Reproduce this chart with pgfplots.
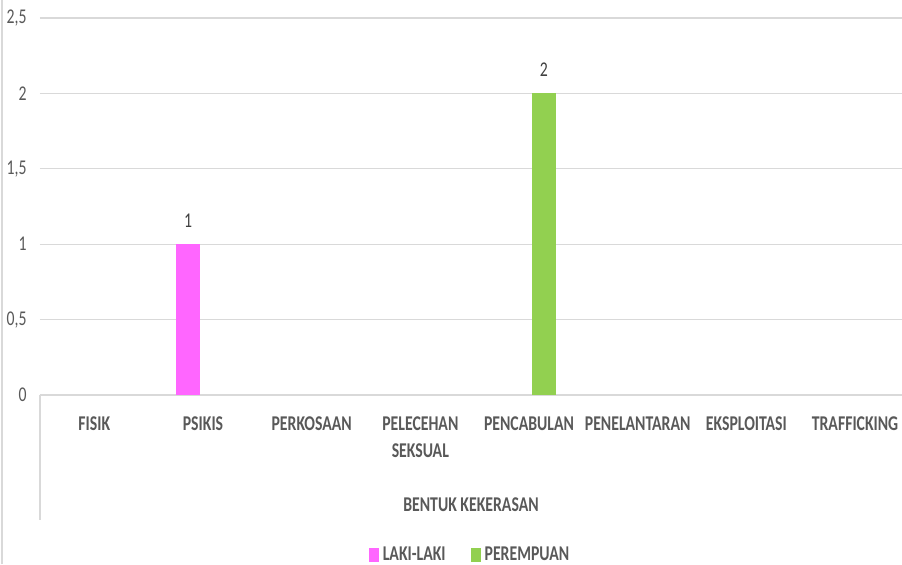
\documentclass[border=0pt]{standalone}
\usepackage{fontspec}
\setmainfont{Carlito}[FakeStretch=0.75]
\usepackage{pgfplots}
\pgfplotsset{compat=1.18}
\definecolor{gridgray}{HTML}{D9D9D9}
\definecolor{tickgray}{HTML}{595959}
\definecolor{labgray}{HTML}{404040}
\definecolor{mag}{HTML}{FF66FF}
\definecolor{grn}{HTML}{92D050}
\newcommand\cfont{\fontsize{10.5}{13.5}\selectfont}
\begin{document}
\begin{tikzpicture}
\path[use as bounding box,fill=white] (-20pt,-84.5pt) rectangle (431pt,197.5pt);
\draw[gridgray,line width=0.6pt] (-19pt,-84.5pt) -- (-19pt,197.5pt);
\begin{axis}[
  at={(0,0)},anchor=south west,
  scale only axis,width=431pt,height=188.5pt,
  xmin=-0.5,xmax=7.432,ymin=0,ymax=2.5,
  clip=false,
  axis line style={draw=none},major tick length=0pt,
  ymajorgrids,grid style={draw=gridgray,line width=0.65pt},
  ytick={0,0.5,1,1.5,2,2.5},
  yticklabels={0,{0,5},1,{1,5},2,{2,5}},
  yticklabel style={font=\cfont,text=tickgray,anchor=east,inner sep=0pt,xshift=-6.5pt},
  xtick={0,...,7},
  xticklabels={FISIK,PSIKIS,PERKOSAAN,{PELECEHAN\\SEKSUAL},PENCABULAN,PENELANTARAN,EKSPLOITASI,TRAFFICKING},
  xticklabel style={font=\cfont\bfseries,text=tickgray,align=center,anchor=north,inner sep=0pt,yshift=-10.5pt},
  xlabel={BENTUK KEKERASAN},
  xlabel style={at={(axis description cs:0.5,0)},anchor=center,yshift=-55pt,font=\cfont\bfseries,text=tickgray},
  ybar,bar width=0.22,
  nodes near coords,
  /pgf/number format/assume math mode=true,
  every node near coord/.append style={font=\cfont,text=labgray,anchor=south,inner sep=0pt,yshift=8.2pt},
  legend columns=2,
  legend style={at={(axis description cs:0.5,0)},anchor=center,yshift=-80pt,
    draw=none,fill=none,font=\cfont\bfseries,text=tickgray,
    /tikz/every even column/.append style={column sep=10.5pt}},
]
\addplot[fill=mag,draw=none,bar shift=-0.137,
  legend image code/.code={\fill[mag] (0pt,-3.3pt) rectangle (5pt,3.3pt);}]
  coordinates {(1,1)};
\addlegendentry{LAKI-LAKI}
\addplot[fill=grn,draw=none,bar shift=0.137,
  legend image code/.code={\fill[grn] (0pt,-3.3pt) rectangle (5pt,3.3pt);}]
  coordinates {(4,2)};
\addlegendentry{PEREMPUAN}
\draw[gridgray,line width=0.65pt] (rel axis cs:0,0) -- ++(0pt,-62.5pt);
\end{axis}
\end{tikzpicture}
\end{document}
